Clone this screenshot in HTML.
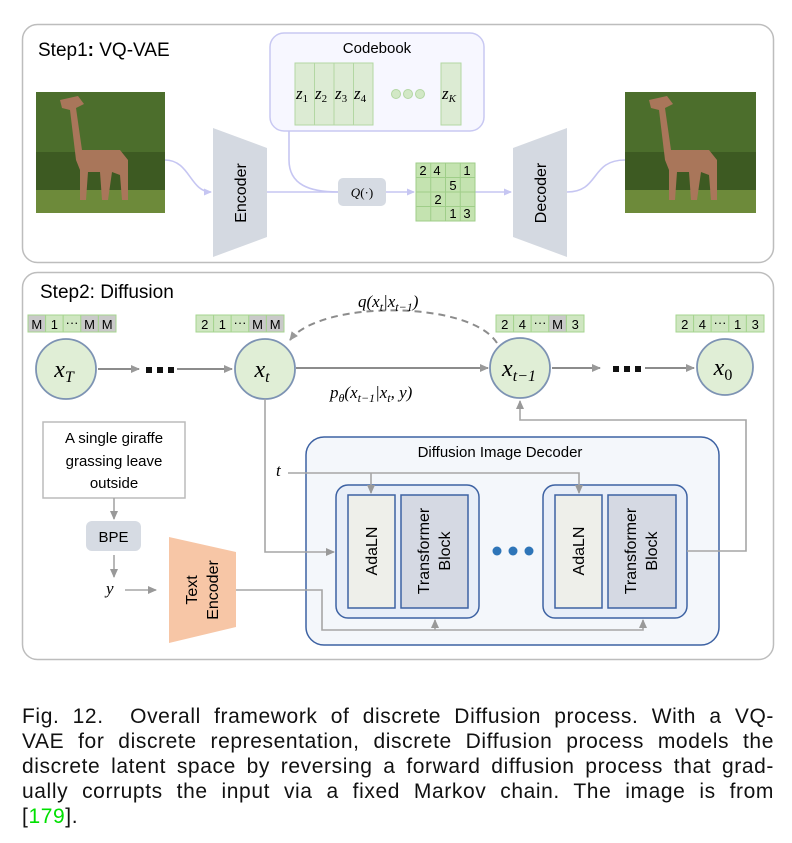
<!DOCTYPE html>
<html><head><meta charset="utf-8"><style>
body{margin:0;background:#fff;width:792px;height:843px;overflow:hidden;position:relative;font-family:"Liberation Sans",sans-serif}
.cap{position:absolute;left:22px;width:752px;font-size:21px;letter-spacing:0.6px;color:#111;line-height:24px}
.cap div{text-align:justify;text-align-last:justify;white-space:nowrap;height:25px}
.cap div.l{text-align-last:left}
</style></head><body>
<svg width="792" height="700" style="position:absolute;left:0;top:0" font-family="Liberation Sans, sans-serif">
<defs>
<marker id="al" markerWidth="8" markerHeight="8" refX="7" refY="4" orient="auto" markerUnits="userSpaceOnUse"><path d="M0,0.5 L8,4 L0,7.5z" fill="#c6c6f2"/></marker>
<marker id="ag" markerWidth="9" markerHeight="9" refX="8" refY="4.5" orient="auto" markerUnits="userSpaceOnUse"><path d="M0,0.5 L9,4.5 L0,8.5z" fill="#999"/></marker>
</defs>
<rect x="22.5" y="24.5" width="751" height="238" rx="15" fill="#fff" stroke="#bdbdbd" stroke-width="1.5"/>
<text x="38" y="56" font-size="19">Step1<tspan font-weight="bold">:</tspan> VQ-VAE</text>
<rect x="270" y="33" width="214" height="98" rx="14" fill="#f7f7ff" stroke="#c8c8f2" stroke-width="1.5"/>
<text x="377" y="53" font-size="15" text-anchor="middle">Codebook</text>
<g fill="#dcebd3" stroke="#b3d7a3" stroke-width="1">
<rect x="295" y="63" width="19.5" height="62"/><rect x="314.5" y="63" width="19.5" height="62"/><rect x="334" y="63" width="19.5" height="62"/><rect x="353.5" y="63" width="19.5" height="62"/><rect x="441" y="63" width="20" height="62"/>
</g>
<g font-family="Liberation Serif, serif" font-style="italic" font-size="17">
<text x="296" y="99">z<tspan font-size="11" font-style="normal" dy="3">1</tspan></text>
<text x="315" y="99">z<tspan font-size="11" font-style="normal" dy="3">2</tspan></text>
<text x="335" y="99">z<tspan font-size="11" font-style="normal" dy="3">3</tspan></text>
<text x="354" y="99">z<tspan font-size="11" font-style="normal" dy="3">4</tspan></text>
<text x="442" y="99">z<tspan font-size="11" dy="3">K</tspan></text>
</g>
<g fill="#d2e8c6" stroke="#b3d7a3"><circle cx="396" cy="94" r="4.5"/><circle cx="408" cy="94" r="4.5"/><circle cx="420" cy="94" r="4.5"/></g>
<g>
<rect x="36" y="92" width="129" height="121" fill="#3d5a22"/>
<rect x="36" y="92" width="129" height="60" fill="#4c6e2c"/>
<rect x="36" y="190" width="129" height="23" fill="#6d8a3a"/>
<path d="M60 100 L78 96 L84 104 L76 108 L82 150 L120 150 L128 160 L128 200 L122 200 L120 175 L112 172 L108 200 L102 200 L100 172 L88 172 L86 200 L80 200 L80 170 L76 160 L70 110 L62 108z" fill="#a9765a"/>
</g>
<g>
<rect x="625" y="92" width="131" height="121" fill="#3d5a22"/>
<rect x="625" y="92" width="131" height="60" fill="#4c6e2c"/>
<rect x="625" y="190" width="131" height="23" fill="#6d8a3a"/>
<path d="M649 100 L667 96 L673 104 L665 108 L671 150 L709 150 L717 160 L717 200 L711 200 L709 175 L701 172 L697 200 L691 200 L689 172 L677 172 L675 200 L669 200 L669 170 L665 160 L659 110 L651 108z" fill="#a9765a"/>
</g>
<path d="M213 128 L267 148 L267 237 L213 257z" fill="#d4d9e1"/>
<path d="M513 148 L567 128 L567 257 L513 237z" fill="#d4d9e1"/>
<text transform="translate(246,193) rotate(-90)" font-size="16" text-anchor="middle">Encoder</text>
<text transform="translate(546,193) rotate(-90)" font-size="16" text-anchor="middle">Decoder</text>
<g fill="none" stroke="#c6c6f2" stroke-width="1.6">
<path d="M165 160 C 190 160, 190 192, 211 192" marker-end="url(#al)"/>
<path d="M267 192 L338 192"/>
<path d="M289 131 L289 160 C 289 185, 310 192, 338 192"/>
<path d="M386 192 L414 192" marker-end="url(#al)"/>
<path d="M475 192 L511 192" marker-end="url(#al)"/>
<path d="M567 192 C 600 192, 590 160, 625 160"/>
</g>
<rect x="338" y="178" width="48" height="28" rx="5" fill="#d6dbe3"/>
<text x="362" y="197" font-size="13" text-anchor="middle" font-family="Liberation Serif, serif"><tspan font-style="italic">Q</tspan>(·)</text>
<g fill="#bfe0ab" stroke="#9fce89" stroke-width="1">
<rect x="416" y="163" width="59" height="58" fill="#c4e3b0"/>
<path d="M430.75 163V221M445.5 163V221M460.25 163V221M416 177.5H475M416 192H475M416 206.5H475" fill="none"/>
</g>
<g font-size="13" text-anchor="middle">
<text x="423" y="175">2</text><text x="437" y="175">4</text><text x="467" y="175">1</text>
<text x="453" y="190">5</text><text x="438" y="204">2</text><text x="453" y="218">1</text><text x="467" y="218">3</text>
</g>
<rect x="22.5" y="272.5" width="751" height="387" rx="15" fill="#fff" stroke="#bdbdbd" stroke-width="1.5"/>
<text x="40" y="298" font-size="19">Step2: Diffusion</text>
<g font-size="13" text-anchor="middle">
<g transform="translate(28,315)">
<rect x="0" y="0" width="17.6" height="17" fill="#c9c9c9" stroke="#a6d48f"/><rect x="17.6" y="0" width="17.6" height="17" fill="#cfe6c1" stroke="#a6d48f"/><rect x="35.2" y="0" width="17.6" height="17" fill="#cfe6c1" stroke="#a6d48f"/><rect x="52.8" y="0" width="17.6" height="17" fill="#c9c9c9" stroke="#a6d48f"/><rect x="70.4" y="0" width="17.6" height="17" fill="#c9c9c9" stroke="#a6d48f"/>
<text x="8.8" y="14">M</text><text x="26.4" y="14">1</text><text x="44" y="12">···</text><text x="61.6" y="14">M</text><text x="79.2" y="14">M</text></g>
<g transform="translate(196,315)">
<rect x="0" y="0" width="17.6" height="17" fill="#cfe6c1" stroke="#a6d48f"/><rect x="17.6" y="0" width="17.6" height="17" fill="#cfe6c1" stroke="#a6d48f"/><rect x="35.2" y="0" width="17.6" height="17" fill="#cfe6c1" stroke="#a6d48f"/><rect x="52.8" y="0" width="17.6" height="17" fill="#c9c9c9" stroke="#a6d48f"/><rect x="70.4" y="0" width="17.6" height="17" fill="#c9c9c9" stroke="#a6d48f"/>
<text x="8.8" y="14">2</text><text x="26.4" y="14">1</text><text x="44" y="12">···</text><text x="61.6" y="14">M</text><text x="79.2" y="14">M</text></g>
<g transform="translate(496,315)">
<rect x="0" y="0" width="17.6" height="17" fill="#cfe6c1" stroke="#a6d48f"/><rect x="17.6" y="0" width="17.6" height="17" fill="#cfe6c1" stroke="#a6d48f"/><rect x="35.2" y="0" width="17.6" height="17" fill="#cfe6c1" stroke="#a6d48f"/><rect x="52.8" y="0" width="17.6" height="17" fill="#c9c9c9" stroke="#a6d48f"/><rect x="70.4" y="0" width="17.6" height="17" fill="#cfe6c1" stroke="#a6d48f"/>
<text x="8.8" y="14">2</text><text x="26.4" y="14">4</text><text x="44" y="12">···</text><text x="61.6" y="14">M</text><text x="79.2" y="14">3</text></g>
<g transform="translate(676,315)">
<rect x="0" y="0" width="17.6" height="17" fill="#cfe6c1" stroke="#a6d48f"/><rect x="17.6" y="0" width="17.6" height="17" fill="#cfe6c1" stroke="#a6d48f"/><rect x="35.2" y="0" width="17.6" height="17" fill="#cfe6c1" stroke="#a6d48f"/><rect x="52.8" y="0" width="17.6" height="17" fill="#cfe6c1" stroke="#a6d48f"/><rect x="70.4" y="0" width="17.6" height="17" fill="#cfe6c1" stroke="#a6d48f"/>
<text x="8.8" y="14">2</text><text x="26.4" y="14">4</text><text x="44" y="12">···</text><text x="61.6" y="14">1</text><text x="79.2" y="14">3</text></g>
</g>
<g fill="#e0eed6" stroke="#7d93b3" stroke-width="1.8">
<circle cx="66" cy="369" r="30"/><circle cx="265" cy="369" r="30"/><circle cx="520" cy="368" r="30"/><circle cx="725" cy="367" r="28"/>
</g>
<g font-family="Liberation Serif, serif" font-style="italic" font-size="24" text-anchor="middle">
<text x="64" y="377">x<tspan font-size="16" dy="5">T</tspan></text>
<text x="262" y="377">x<tspan font-size="16" dy="5">t</tspan></text>
<text x="519" y="376">x<tspan font-size="16" dy="5">t−1</tspan></text>
<text x="723" y="375">x<tspan font-size="16" font-style="normal" dy="5">0</tspan></text>
</g>
<g stroke="#8c8c8c" stroke-width="2" fill="none">
<path d="M98 369H139" marker-end="url(#ag)"/><path d="M177 369H232" marker-end="url(#ag)"/>
<path d="M296 368H488" marker-end="url(#ag)"/>
<path d="M552 368H600" marker-end="url(#ag)"/><path d="M645 368H694" marker-end="url(#ag)"/>
<path d="M497 343 C 470 300, 320 300, 290 340" stroke-dasharray="7,5" marker-end="url(#ag)"/>
</g>
<g fill="#111"><rect x="146" y="367" width="6" height="6"/><rect x="157" y="367" width="6" height="6"/><rect x="168" y="367" width="6" height="6"/>
<rect x="613" y="366" width="6" height="6"/><rect x="624" y="366" width="6" height="6"/><rect x="635" y="366" width="6" height="6"/></g>
<g font-family="Liberation Serif, serif" font-style="italic" font-size="17">
<text x="358" y="307">q(x<tspan font-size="12" dy="4">t</tspan><tspan dy="-4">|x</tspan><tspan font-size="12" dy="4">t−1</tspan><tspan dy="-4">)</tspan></text>
<text x="330" y="398">p<tspan font-size="12" dy="4">θ</tspan><tspan dy="-4">(x</tspan><tspan font-size="12" dy="4">t−1</tspan><tspan dy="-4">|x</tspan><tspan font-size="12" dy="4">t</tspan><tspan dy="-4">, y)</tspan></text>
<text x="276" y="476">t</text>
<text x="106" y="594">y</text>
</g>
<rect x="43" y="422" width="142" height="76" fill="#fff" stroke="#bbb" stroke-width="1.5"/>
<g font-size="15" text-anchor="middle"><text x="114" y="443">A single giraffe</text><text x="114" y="466">grassing leave</text><text x="114" y="488">outside</text></g>
<rect x="86" y="521" width="55" height="30" rx="6" fill="#d6dbe3"/>
<text x="113.5" y="542" font-size="15" text-anchor="middle">BPE</text>
<path d="M169 537 L236 552 L236 627 L169 643z" fill="#f7c6a6"/>
<text transform="translate(197,590) rotate(-90)" font-size="16" text-anchor="middle">Text</text>
<text transform="translate(218,590) rotate(-90)" font-size="16" text-anchor="middle">Encoder</text>
<rect x="306" y="437" width="413" height="208" rx="18" fill="#f4f7fb" stroke="#3d62a3" stroke-width="1.5"/>
<text x="500" y="457" font-size="15" text-anchor="middle">Diffusion Image Decoder</text>
<rect x="336" y="485" width="143" height="133" rx="12" fill="#e8eef8" stroke="#3d62a3" stroke-width="1.5"/>
<rect x="543" y="485" width="144" height="133" rx="12" fill="#e8eef8" stroke="#3d62a3" stroke-width="1.5"/>
<g stroke="#3d62a3" stroke-width="1.5">
<rect x="348" y="495" width="47" height="113" fill="#eeefea"/><rect x="401" y="495" width="67" height="113" fill="#d5d9e3"/>
<rect x="555" y="495" width="47" height="113" fill="#eeefea"/><rect x="608" y="495" width="68" height="113" fill="#d5d9e3"/>
</g>
<g font-size="16" text-anchor="middle">
<text transform="translate(377,551) rotate(-90)">AdaLN</text>
<text transform="translate(584,551) rotate(-90)">AdaLN</text>
<text transform="translate(429,551) rotate(-90)">Transformer</text><text transform="translate(450,551) rotate(-90)">Block</text>
<text transform="translate(636,551) rotate(-90)">Transformer</text><text transform="translate(657,551) rotate(-90)">Block</text>
</g>
<g fill="#2e75b8"><circle cx="497" cy="551" r="4.5"/><circle cx="513" cy="551" r="4.5"/><circle cx="529" cy="551" r="4.5"/></g>
<g stroke="#a6a6a6" stroke-width="1.6" fill="none">
<path d="M114 498V519" marker-end="url(#ag)"/>
<path d="M114 555V577" marker-end="url(#ag)"/>
<path d="M125 590H156" marker-end="url(#ag)"/>
<path d="M288 473H579V493" marker-end="url(#ag)"/>
<path d="M371 473V493" marker-end="url(#ag)"/>
<path d="M265 399V552H334" marker-end="url(#ag)"/>
<path d="M236 590H322V630H643V620" marker-end="url(#ag)"/>
<path d="M435 630V620" marker-end="url(#ag)"/>
<path d="M687 551H746V420H520V401" marker-end="url(#ag)"/>
</g>
</svg>
<div class="cap" style="top:705px">
<div>Fig. 12.&nbsp; Overall framework of discrete Diffusion process. With a VQ-</div>
<div>VAE for discrete representation, discrete Diffusion process models the</div>
<div>discrete latent space by reversing a forward diffusion process that grad-</div>
<div>ually corrupts the input via a fixed Markov chain. The image is from</div>
<div class="l">[<span style="color:#00e000">179</span>].</div>
</div>
</body></html>
